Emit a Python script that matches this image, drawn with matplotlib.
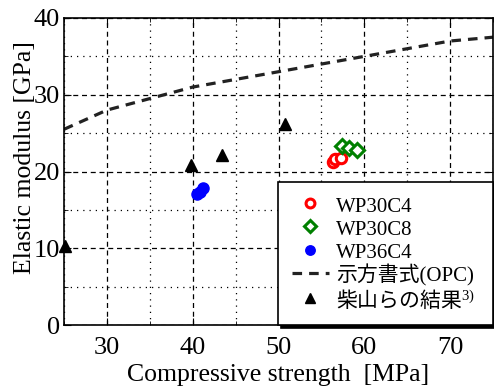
import matplotlib
matplotlib.use("Agg")
import matplotlib.pyplot as plt
from matplotlib.ticker import MultipleLocator

plt.rcParams['font.family'] = ['Liberation Serif', 'Noto Sans CJK JP']
plt.rcParams['mathtext.fontset'] = 'custom'
plt.rcParams['mathtext.rm'] = 'Liberation Serif'
plt.rcParams['mathtext.it'] = 'Liberation Serif:italic'
plt.rcParams['mathtext.bf'] = 'Liberation Serif:bold'

# Data
wp30c4_x = [56.3, 56.6, 57.3]
wp30c4_y = [21.3, 21.6, 21.8]
wp30c8_x = [57.4, 58.2, 59.2]
wp30c8_y = [23.3, 23.1, 22.8]
wp36c4_x = [40.5, 40.8, 41.2]
wp36c4_y = [17.1, 17.3, 17.9]
opc_x = [25, 30, 40, 50, 60, 70, 75]
opc_y = [25.5, 28, 31, 33, 35, 37, 37.5]
shibayama_x = [25.1, 39.8, 43.4, 50.7]
shibayama_y = [10.3, 20.8, 22.1, 26.2]

labels = ['WP30C4', 'WP30C8', 'WP36C4', '示方書式(OPC)', '柴山らの結果$^{\\mathrm{3)}}$']

fig = plt.figure(figsize=(4.94, 3.87), dpi=100)
ax = fig.add_axes([64/494, 62/387, 429/494, 307/387])

ax.plot(wp30c4_x, wp30c4_y, 'o', mfc='white', mec='red', mew=2.2, ms=7.5, ls='none', label=labels[0])
ax.plot(wp30c8_x, wp30c8_y, 'D', mfc='white', mec='green', mew=2.2, ms=7.5, ls='none', label=labels[1])
ax.plot(wp36c4_x, wp36c4_y, 'o', color='blue', ms=8, ls='none', label=labels[2])
ax.plot(opc_x, opc_y, ls=(0, (3, 2.2)), color='#222222', lw=2.3, label=labels[3])
ax.plot(shibayama_x, shibayama_y, '^', color='black', ms=8, ls='none', label=labels[4], clip_on=False)

ax.set_xlim(25, 75)
ax.set_ylim(0, 40)
ax.xaxis.set_major_locator(MultipleLocator(10))
ax.xaxis.set_minor_locator(MultipleLocator(5))
ax.yaxis.set_major_locator(MultipleLocator(10))
ax.yaxis.set_minor_locator(MultipleLocator(5))
ax.set_xticks([30, 40, 50, 60, 70])
ax.grid(which='major', ls=(0, (4, 3)), color='black', lw=0.9)
ax.grid(which='minor', ls=(0, (1, 4)), color='black', lw=0.9)
ax.tick_params(which='both', direction='in', labelsize=19, top=True, right=True, pad=3)
ax.tick_params(axis='x', which='both', pad=9)
ax.tick_params(which='major', length=5)
ax.tick_params(which='minor', length=3)
for s in ax.spines.values():
    s.set_linewidth(1.2)

ax.set_xlabel('Compressive strength  [MPa]', fontsize=18.5, labelpad=3)
ax.set_ylabel('Elastic modulus [GPa]', fontsize=18.5)
ax.yaxis.set_label_coords(-0.065, 0.545)

leg = ax.legend(loc='lower left', bbox_to_anchor=((278 - 64) / 429, 0, (493 - 278) / 429, 0.4),
                mode='expand', borderaxespad=0, fontsize=15, frameon=True,
                fancybox=False, edgecolor='black', framealpha=1, markerscale=0.85,
                handlelength=1.8, handleheight=1.0, handletextpad=0.35, labelspacing=0.08,
                borderpad=0.65, shadow={'color': 'black', 'alpha': 1})
leg.get_frame().set_linewidth(1.2)
leg.get_texts()[3].set_fontfamily(['Liberation Serif', 'Noto Sans CJK JP'])
leg.get_texts()[4].set_fontfamily(['Noto Sans CJK JP', 'Liberation Serif'])

fig.savefig('out.png', dpi=100)
